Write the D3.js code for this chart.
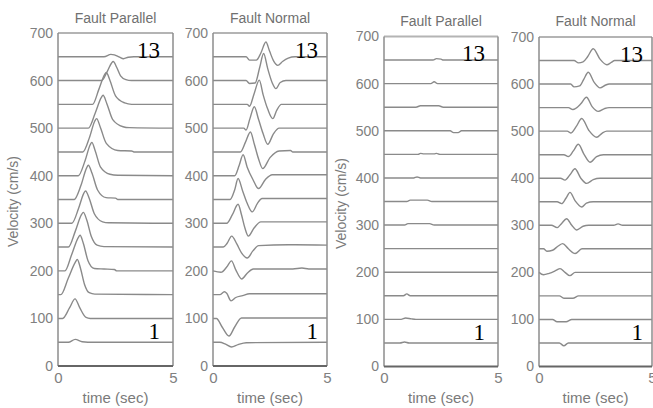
<!DOCTYPE html>
<html>
<head>
<meta charset="utf-8">
<script src="https://cdn.jsdelivr.net/npm/d3@7"></script>
<style>
  html, body { margin: 0; padding: 0; background: #fff; }
  svg { display: block; }
  .tick text { font-family: "Liberation Sans", Arial, sans-serif; fill: #808080; }
</style>
</head>
<body>
<div id="chart"></div>
<script>
// Record section: 13 velocity traces per component, each drawn on its own baseline.
const stationLabels = ["1", "13"];
const baselines = [50, 100, 150, 200, 250, 300, 350, 400, 450, 500, 550, 600, 650];
const yTicks = [0, 100, 200, 300, 400, 500, 600, 700];
const xTicks = [0, 5];
const panelTitles = ["Fault Parallel", "Fault Normal", "Fault Parallel", "Fault Normal"];

// Each trace: [time (s), velocity (cm/s)] pairs, station 1 first.
const faultParallelA = [
  [[0,0],[0.45,0],[0.75,6],[1.05,1],[1.3,0],[5,0]],
  [[0,0],[0.2,0],[0.5,22],[0.74,41],[0.95,22],[1.22,2],[1.4,0],[5,0]],
  [[0,0],[0.12,0],[0.45,35],[0.75,68],[0.84,74],[0.98,55],[1.15,22],[1.36,4],[1.6,1],[5,0]],
  [[0,0],[0.3,0],[0.6,35],[0.88,70],[0.96,75],[1.1,58],[1.3,22],[1.58,5],[2.0,4],[2.45,3],[2.55,0],[5,0]],
  [[0,0],[0.45,0],[0.75,33],[1.02,68],[1.1,73],[1.25,57],[1.45,22],[1.7,4],[2.0,1],[5,0]],
  [[0,0],[0.6,0],[0.9,32],[1.12,63],[1.2,68],[1.36,52],[1.58,20],[1.94,3],[2.2,1],[5,0]],
  [[0,0],[0.7,0],[1.0,30],[1.24,66],[1.32,72],[1.48,55],[1.72,20],[2.09,4],[2.5,3],[2.6,0],[5,0]],
  [[0,0],[0.88,0],[1.18,32],[1.4,65],[1.47,70],[1.62,52],[1.85,18],[2.26,3],[2.6,1],[5,0]],
  [[0,0],[1.08,0],[1.38,32],[1.6,65],[1.68,70],[1.84,52],[2.1,18],[2.6,3],[3.2,2],[3.3,0],[5,0]],
  [[0,0],[1.32,0],[1.62,32],[1.88,64],[1.96,69],[2.12,52],[2.38,18],[2.83,3],[3.1,1],[5,0]],
  [[0,0],[1.5,0],[1.78,32],[2.02,62],[2.1,67],[2.26,50],[2.5,18],[2.9,3],[3.2,0],[5,0]],
  [[0,0],[1.9,0],[2.15,20],[2.33,37],[2.4,40],[2.55,28],[2.72,10],[2.95,2],[3.2,0],[5,0]],
  [[0,0],[2.0,0],[2.3,5],[2.45,4],[2.65,0],[2.85,-4],[3.05,-1],[3.3,0],[5,0]]
];

const faultNormalA = [
  [[0,0],[0.3,0],[0.55,-4],[0.81,-10],[1.1,-5],[1.46,-1],[5,0]],
  [[0,0],[0.15,0],[0.4,-18],[0.7,-37],[0.95,-18],[1.25,1],[1.6,1],[5,1]],
  [[0,0],[0.3,0],[0.5,6],[0.6,3],[0.79,-13],[1.0,-6],[1.3,-2],[1.6,2],[5,2]],
  [[0,0],[0.35,-3],[0.6,8],[0.81,21],[1.0,2],[1.26,-17],[1.5,-5],[1.77,4],[3.5,4],[3.9,6],[4.2,4],[5,4]],
  [[0,0],[0.45,0],[0.62,8],[0.82,23],[1.05,6],[1.25,-12],[1.5,-23],[1.75,-8],[2.0,3],[3.3,5],[3.6,5],[5,4]],
  [[0,0],[0.6,0],[0.85,18],[1.1,40],[1.25,18],[1.4,-10],[1.55,-27],[1.8,-10],[2.1,3],[5,3]],
  [[0,0],[0.75,0],[0.95,20],[1.1,44],[1.3,18],[1.5,-8],[1.72,-26],[1.95,-8],[2.15,2],[5,2]],
  [[0,0],[0.95,0],[1.15,22],[1.32,44],[1.5,18],[1.75,-8],[2.0,-27],[2.3,-8],[2.6,2],[5,2]],
  [[0,0],[1.2,0],[1.42,20],[1.64,42],[1.82,15],[2.0,-15],[2.18,-35],[2.5,-12],[2.9,2],[3.4,3],[3.5,0],[5,0]],
  [[0,0],[1.35,0],[1.45,-4],[1.62,20],[1.81,45],[2.0,18],[2.2,-12],[2.4,-34],[2.65,-12],[2.9,0],[5,0]],
  [[0,0],[1.5,0],[1.6,-4],[1.8,22],[2.03,51],[2.2,20],[2.4,-10],[2.62,-30],[2.8,-12],[3.0,0],[5,0]],
  [[0,0],[1.45,0],[1.6,-6],[1.85,-5],[2.05,28],[2.22,57],[2.4,25],[2.6,-5],[2.76,-17],[2.95,-4],[3.2,0],[5,0]],
  [[0,0],[1.45,0],[1.6,-7],[1.9,-7],[2.1,8],[2.32,31],[2.48,12],[2.65,-8],[2.84,-18],[3.05,-10],[3.3,-3],[3.6,0],[5,0]]
];

const faultParallelB = [
  [[0,0],[0.7,0],[0.9,2],[1.1,0],[5,0]],
  [[0,0],[0.75,0],[0.95,3],[1.2,1],[1.4,0],[5,0]],
  [[0,0],[0.85,0],[1.0,4],[1.15,0],[5,0]],
  [[0,0],[5,0]],
  [[0,0],[5,0]],
  [[0,0],[0.9,0],[1.05,3],[2.0,3],[2.2,0],[5,0]],
  [[0,0],[1.0,0],[1.15,3],[1.9,3],[2.1,0],[5,0]],
  [[0,0],[1.3,0],[1.45,2],[1.6,0],[5,0]],
  [[0,0],[1.5,0],[1.6,2],[1.75,1],[2.2,1],[2.3,2],[2.45,0],[5,0]],
  [[0,0],[2.9,0],[3.05,-4],[3.25,-4],[3.4,0],[5,0]],
  [[0,0],[1.4,0],[1.6,3],[2.4,3],[2.6,0],[5,0]],
  [[0,0],[2.05,0],[2.2,4],[2.35,0],[5,0]],
  [[0,0],[2.15,0],[2.3,3],[2.5,2],[2.6,0],[5,0]]
];

const faultNormalB = [
  [[0,0],[0.9,0],[1.1,-6],[1.3,0],[5,0]],
  [[0,0],[0.6,0],[0.8,-5],[1.2,-5],[1.45,0],[5,0]],
  [[0,0],[0.9,0],[1.1,-5],[1.5,-5],[1.75,0],[5,0]],
  [[0,0],[0.2,-5],[0.45,-2],[0.75,4],[0.93,8],[1.15,0],[1.37,-7],[1.6,0],[5,0]],
  [[0,0],[0.2,0],[0.35,-5],[0.6,-3],[0.85,6],[1.05,11],[1.3,0],[1.6,-10],[1.9,0],[5,0]],
  [[0,0],[0.55,0],[0.8,-5],[1.0,4],[1.22,14],[1.45,0],[1.67,-10],[1.95,-2],[2.2,0],[3.3,0],[3.5,3],[3.7,0],[5,0]],
  [[0,0],[0.8,0],[1.0,-4],[1.2,8],[1.37,20],[1.6,2],[1.89,-11],[2.1,-3],[2.4,0],[5,0]],
  [[0,0],[0.95,0],[1.15,-4],[1.38,8],[1.59,20],[1.85,0],[2.11,-11],[2.4,-3],[2.7,0],[5,0]],
  [[0,0],[1.1,0],[1.3,-4],[1.52,8],[1.74,22],[2.0,0],[2.26,-16],[2.55,-4],[2.85,0],[5,0]],
  [[0,0],[1.25,0],[1.4,-4],[1.65,10],[1.89,27],[2.2,2],[2.55,-13],[2.8,-4],[3.0,0],[5,0]],
  [[0,0],[1.3,0],[1.5,-4],[1.85,8],[2.1,22],[2.35,2],[2.62,-8],[2.9,-2],[3.1,0],[5,0]],
  [[0,0],[1.4,0],[1.55,-6],[1.8,-4],[1.98,10],[2.18,25],[2.45,3],[2.7,-8],[2.95,-2],[3.1,0],[5,0]],
  [[0,0],[1.55,0],[1.75,-5],[1.95,-3],[2.15,8],[2.4,25],[2.7,3],[3.0,-9],[3.2,-4],[3.35,0],[5,0]]
];

const W = 653, H = 408;
const svg = d3.select("#chart").append("svg").attr("width", W).attr("height", H);

const font = '"Liberation Sans", Arial, sans-serif';
const panels = [
  { data: faultParallelA, left: 58,  right: 173, top: 33,   bottom: 366,   yLabel: 13,  titleY: 23 },
  { data: faultNormalA,   left: 213, right: 327, top: 33,   bottom: 366,   yLabel: null, titleY: 23 },
  { data: faultParallelB, left: 384, right: 498, top: 36.5, bottom: 366.5, yLabel: 341, titleY: 26 },
  { data: faultNormalB,   left: 539, right: 652, top: 37,   bottom: 366.5, yLabel: null, titleY: 26 }
];

panels.forEach((p, i) => {
  const x = d3.scaleLinear().domain([0, 5]).range([p.left, p.right]);
  const y = d3.scaleLinear().domain([0, 700]).range([p.bottom, p.top]);
  const g = svg.append("g");

  // traces, each shifted up to its station baseline
  const line = d3.line()
    .x(d => x(d[0]))
    .y(d => y(d[1]))
    .curve(d3.curveMonotoneX);
  g.selectAll("path.trace")
    .data(p.data)
    .join("path")
    .attr("class", "trace")
    .attr("d", (tr, k) => line(tr.map(([t, v]) => [t, baselines[k] + v])))
    .attr("fill", "none")
    .attr("stroke", "#8a8a8a")
    .attr("stroke-width", 1.4)
    .attr("stroke-linejoin", "round");

  // frame
  g.append("line").attr("x1", x(0)).attr("x2", x(5)).attr("y1", y(700)).attr("y2", y(700))
    .attr("stroke", "#b4b4b4").attr("stroke-width", 1.8);
  g.append("line").attr("x1", x(0)).attr("x2", x(0)).attr("y1", y(700)).attr("y2", y(0))
    .attr("stroke", "#8c8c8c").attr("stroke-width", 1.5);
  g.append("line").attr("x1", x(5)).attr("x2", x(5)).attr("y1", y(700)).attr("y2", y(0))
    .attr("stroke", "#8c8c8c").attr("stroke-width", 1.5);
  g.append("line").attr("x1", x(0)).attr("x2", x(5)).attr("y1", y(0)).attr("y2", y(0))
    .attr("stroke", "#666").attr("stroke-width", 1.8);

  // axes (labels only; frame drawn above)
  const ya = g.append("g").attr("transform", `translate(${p.left},0)`)
    .call(d3.axisLeft(y).tickValues(yTicks).tickSize(0).tickPadding(5));
  ya.select(".domain").remove();
  ya.selectAll("text").style("font-size", "14px");

  const xa = g.append("g").attr("transform", `translate(0,${p.bottom})`)
    .call(d3.axisBottom(x).tickValues(xTicks).tickSize(0).tickPadding(6).tickFormat(d3.format("d")));
  xa.select(".domain").remove();
  xa.selectAll("text").style("font-size", "15px");

  // title
  g.append("text")
    .attr("x", (p.left + p.right) / 2).attr("y", p.titleY)
    .attr("text-anchor", "middle")
    .style("font-family", font).style("font-size", "14px").attr("fill", "#707070")
    .text(panelTitles[i]);

  // x label
  g.append("text")
    .attr("x", (p.left + p.right) / 2).attr("y", 403)
    .attr("text-anchor", "middle")
    .style("font-family", font).style("font-size", "15px").attr("fill", "#7a7a7a")
    .text("time (sec)");

  // y label
  if (p.yLabel !== null) {
    g.append("text")
      .attr("transform", `translate(${p.yLabel},${(y(0) + y(700)) / 2 + 2}) rotate(-90)`)
      .attr("text-anchor", "middle")
      .attr("dy", "0.35em")
      .style("font-family", font).style("font-size", "14px").attr("fill", "#7a7a7a")
      .text("Velocity (cm/s)");
  }

  // station numbers
  const inset = i === 1 || i === 3 ? 9 : 13;
  g.append("text")
    .attr("x", p.right - inset).attr("y", y(baselines[12]) + 1)
    .attr("text-anchor", "end")
    .style("font-family", '"Liberation Serif", "Times New Roman", serif').style("font-size", "23px")
    .attr("fill", "#000")
    .text(stationLabels[1]);
  g.append("text")
    .attr("x", p.right - inset).attr("y", y(baselines[0]) - 3)
    .attr("text-anchor", "end")
    .style("font-family", '"Liberation Serif", "Times New Roman", serif').style("font-size", "23px")
    .attr("fill", "#000")
    .text(stationLabels[0]);
});
</script>
</body>
</html>
